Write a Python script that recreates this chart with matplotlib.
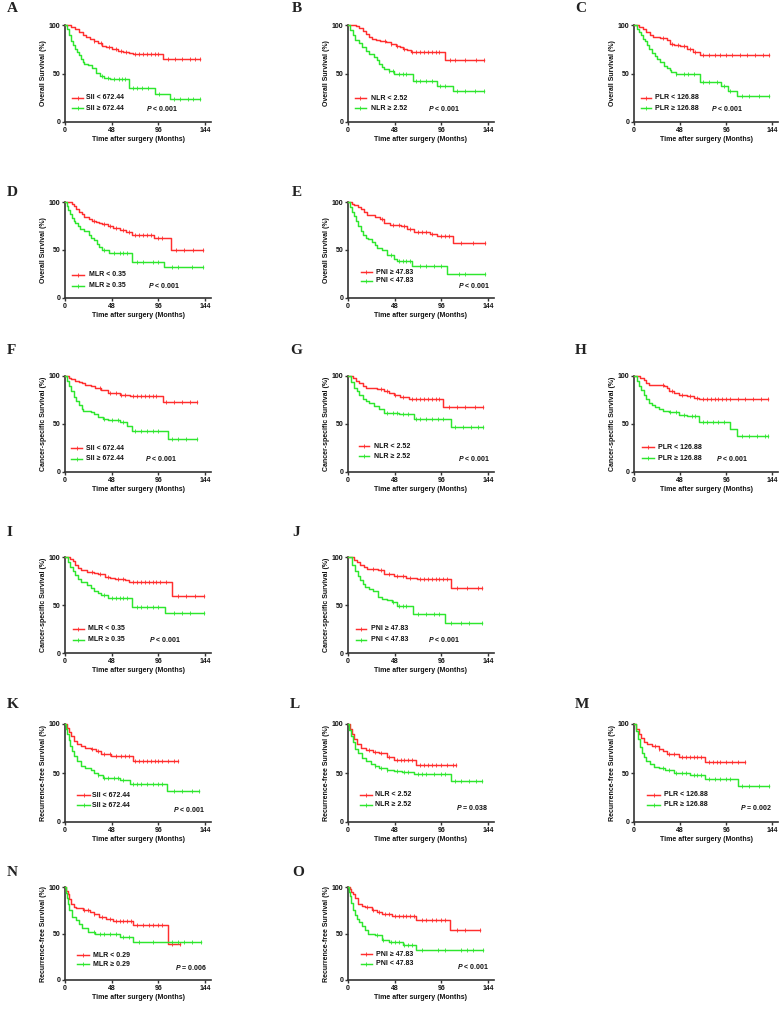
import numpy as np
import matplotlib
matplotlib.use('Agg')
import matplotlib.pyplot as plt

# ---------------- DATA ----------------
# Each curve: step times (months), survival (%) and censor times
A_hi_t = [0, 6, 10, 14, 18, 22, 26, 30, 34, 38, 42, 48, 54, 60, 66, 70, 101, 139]
A_hi_s = [100, 98, 96, 93, 90, 88, 86, 84, 81, 78, 77, 75, 73, 72, 71, 70, 64.5, 64.5]
A_hi_c = [30, 37, 45, 52, 58, 63, 72, 76, 80, 84, 88, 92, 96, 106, 113, 120, 128, 134, 139]
A_lo_t = [0, 2, 4, 6, 8, 10, 12, 14, 16, 18, 20, 24, 28, 32, 36, 40, 46, 66, 92, 108, 139]
A_lo_s = [100, 96, 90, 84, 79, 75, 72, 69, 65, 62, 60, 59, 56, 51, 47, 45, 44, 35, 29, 23.5, 23.5]
A_lo_c = [38, 44, 50, 55, 59, 62, 70, 74, 79, 85, 97, 112, 118, 126, 132, 139]

B_hi_t = [0, 8, 11, 15, 18, 21.5, 25, 28.5, 33, 39, 44, 49, 53, 57, 61, 65, 100, 140]
B_hi_s = [100, 99, 97, 94, 91, 88, 86, 85, 84, 82, 80, 78, 77, 75, 74, 72, 64, 64]
B_hi_c = [38, 44, 50, 58, 66, 70, 74, 78, 82, 86, 90, 94, 105, 110, 120, 132, 140]
B_lo_t = [0, 2.5, 5, 7.5, 11, 14.5, 18, 21.5, 26.5, 30, 32, 35, 37, 42, 47.5, 66.5, 91, 107.5, 140]
B_lo_s = [100, 95, 90, 85, 81, 77, 73, 70, 67, 64, 60, 57, 55, 53, 50, 42, 37, 32, 32]
B_lo_c = [42, 46, 52, 56, 60, 70, 74, 80, 86, 95, 100, 112, 120, 130, 140]

C_hi_t = [0, 5, 9, 13, 17, 20, 27, 34, 37, 42, 48, 55, 61.5, 68.5, 141]
C_hi_s = [100, 98, 96, 93, 90, 88, 87, 85, 80, 79, 78, 75, 72, 69.5, 69.5]
C_hi_c = [30, 40, 46, 52, 58, 64, 72, 78, 84, 90, 96, 102, 110, 118, 126, 134, 141]
C_lo_t = [0, 3, 5, 7.5, 9, 11, 13.5, 16, 19, 21.5, 24, 27, 31, 34, 37, 39, 44, 48, 68.5, 91, 98, 107, 141]
C_lo_s = [100, 96, 93, 90, 86, 83, 79, 75, 71, 68, 65, 62, 58, 56, 54, 52, 50, 49, 41, 37, 32, 27, 27]
C_lo_c = [44, 52, 56, 62, 72, 78, 86, 94, 100, 112, 120, 130, 141]

D_hi_t = [0, 7, 9, 11, 14, 17, 19.5, 24.5, 28, 31.5, 35, 38.5, 44, 49, 56, 63, 68.5, 91, 109, 142]
D_hi_s = [100, 98, 96, 93, 90, 87, 84, 82, 80, 79, 78, 77, 75, 73, 71, 69, 66, 62, 49.5, 49.5]
D_hi_c = [30, 40, 46, 52, 60, 66, 72, 76, 80, 84, 88, 96, 100, 114, 122, 132, 142]
D_lo_t = [0, 2, 3.5, 5, 7, 9, 10.5, 13, 15.5, 20, 24.5, 27, 30, 33, 35, 38.5, 45.5, 68.5, 102, 142]
D_lo_s = [100, 96, 92, 87, 83, 80, 78, 75, 72, 70, 66, 63, 60, 56, 53, 50, 47, 37, 32, 32]
D_lo_c = [40, 50, 56, 60, 64, 74, 80, 90, 96, 110, 116, 130, 142]

E_hi_t = [0, 4, 6, 10, 13, 16, 19.5, 28, 33, 37, 43.5, 54, 60.5, 67.5, 84, 91, 107.5, 140.5]
E_hi_s = [100, 98, 97, 95, 93, 90, 86, 84, 82, 78, 76, 75, 72, 69, 67, 65, 57, 57]
E_hi_c = [35, 46, 52, 58, 64, 72, 76, 80, 86, 96, 100, 104, 116, 128, 140.5]
E_lo_t = [0, 2, 4.5, 6, 8, 10, 13, 15.5, 18, 21, 25, 28, 30, 35, 40, 47, 50, 65.5, 101.5, 140.5]
E_lo_s = [100, 95, 90, 85, 80, 75, 70, 66, 63, 61, 58, 55, 52, 50, 45, 41, 39, 33, 24.5, 24.5]
E_lo_c = [44, 52, 56, 60, 64, 74, 80, 88, 96, 114, 120, 140.5]

F_hi_t = [0, 4, 6.5, 10, 14, 17, 21, 26.5, 31, 37, 44, 57, 67, 101, 136]
F_hi_s = [100, 98, 97, 95, 94, 93, 91, 90, 88, 85, 82, 80, 79, 73, 73]
F_hi_c = [36, 46, 52, 58, 62, 70, 74, 78, 82, 86, 90, 94, 104, 112, 120, 128, 136]
F_lo_t = [0, 2, 4, 6, 9, 11, 14, 17, 19, 26.5, 30, 34, 39, 44, 57, 64, 69, 106, 136]
F_lo_s = [100, 95, 90, 84, 78, 74, 70, 66, 64, 63, 60, 57, 55, 54, 52, 48, 43, 34.5, 34.5]
F_lo_c = [40, 48, 54, 60, 72, 78, 84, 90, 96, 110, 116, 124, 136]

G_hi_t = [0, 5, 8, 11.5, 15, 18, 22, 30, 37, 42, 47, 53, 62.5, 98, 139]
G_hi_s = [100, 98, 95, 93, 90, 88, 87, 86, 84, 82, 80, 78, 76, 68, 68]
G_hi_c = [34, 40, 48, 56, 66, 70, 74, 78, 82, 86, 90, 94, 104, 112, 120, 130, 139]
G_lo_t = [0, 3, 6.5, 9, 11.5, 15, 18, 22, 27, 32, 37, 52, 67.5, 106, 139]
G_lo_s = [100, 94, 88, 84, 80, 76, 74, 72, 69, 66, 61, 60, 55, 47, 47]
G_lo_c = [40, 46, 50, 56, 62, 70, 74, 80, 86, 92, 98, 110, 118, 126, 134, 139]

H_hi_t = [0, 6, 10.5, 13, 15.5, 31, 34, 36.5, 42, 47, 55, 63, 68, 140]
H_hi_s = [100, 98, 96, 93, 91, 90, 87, 84, 82, 80, 79, 77, 76, 76]
H_hi_c = [30, 40, 50, 58, 66, 72, 76, 80, 84, 88, 92, 96, 100, 108, 116, 124, 132, 140]
H_lo_t = [0, 3, 5, 7.5, 10.5, 13, 15.5, 19, 22, 26, 30, 36.5, 47, 55, 68, 99.5, 107, 140]
H_lo_s = [100, 95, 90, 85, 80, 76, 72, 70, 68, 66, 64, 62, 59, 58, 52, 45, 38, 38]
H_lo_c = [38, 44, 52, 60, 64, 72, 76, 82, 88, 94, 112, 120, 128, 136, 140]

I_hi_t = [0, 5, 8, 10.5, 13, 16, 23, 30, 34, 41, 46, 51.5, 62, 66, 110, 143]
I_hi_s = [100, 98, 96, 92, 89, 86, 84, 83, 82, 79, 78, 77, 76, 74, 59, 59]
I_hi_c = [28, 36, 44, 54, 60, 70, 74, 78, 82, 86, 90, 94, 98, 104, 116, 124, 134, 143]
I_lo_t = [0, 3, 5.5, 8, 10.5, 13, 16, 23, 27, 30, 34, 37, 44.5, 69, 103, 143]
I_lo_s = [100, 95, 90, 85, 81, 77, 74, 71, 68, 65, 62, 60, 57, 48, 42, 42]
I_lo_c = [40, 48, 52, 56, 60, 64, 74, 78, 84, 90, 96, 112, 120, 128, 143]

J_hi_t = [0, 5.8, 9, 12.6, 16, 19.5, 31, 36.5, 46.8, 60, 70.6, 105.8, 138]
J_hi_s = [100, 97, 95, 92, 90, 88, 86, 82, 80, 78, 77, 68, 68]
J_hi_c = [26, 34, 42, 50, 56, 64, 74, 78, 82, 86, 90, 94, 98, 102, 112, 122, 134, 138]
J_lo_t = [0, 4, 7.5, 10, 12.6, 15, 17.7, 22, 26, 31, 35, 40, 45, 50, 67, 99.6, 138]
J_lo_s = [100, 92, 85, 80, 76, 72, 69, 67, 65, 58, 56, 55, 53, 49, 41, 31, 31]
J_lo_c = [46, 52, 56, 60, 72, 80, 88, 94, 106, 116, 124, 138]

K_hi_t = [0, 2, 4, 6.5, 9, 12, 16.5, 21, 26.5, 32, 36.8, 46.8, 69.5, 116]
K_hi_s = [100, 96, 92, 88, 83, 80, 78, 76, 74, 72, 69, 67, 62, 62]
K_hi_c = [28, 34, 40, 46, 52, 58, 62, 66, 72, 76, 80, 84, 88, 92, 96, 100, 106, 112, 116]
K_lo_t = [0, 1.5, 2.5, 4, 5, 7, 9, 12, 16.5, 21, 26.7, 30, 34, 39, 57, 67, 105, 137.5]
K_lo_s = [100, 95, 90, 84, 78, 72, 67, 62, 57, 55, 53, 50, 48, 45, 43, 39, 32, 32]
K_lo_c = [34, 40, 44, 50, 54, 60, 70, 74, 78, 84, 90, 96, 100, 112, 120, 130, 137.5]

L_hi_t = [0, 2, 4, 6.5, 9, 13, 19, 26, 32, 40, 47, 70, 111]
L_hi_s = [100, 95, 90, 85, 80, 76, 73, 71, 70, 66, 63, 58, 58]
L_hi_c = [22, 28, 34, 42, 50, 54, 58, 62, 66, 74, 78, 82, 86, 90, 96, 102, 108, 111]
L_lo_t = [0, 1.5, 3, 5, 7.6, 10, 14, 19, 24, 28, 32, 40, 47, 55, 67.7, 106, 138]
L_lo_s = [100, 94, 88, 82, 75, 70, 65, 62, 59, 57, 55, 53, 52, 51, 49, 42, 42]
L_lo_c = [28, 34, 40, 50, 58, 62, 72, 76, 80, 88, 96, 100, 110, 116, 124, 132, 138]

M_hi_t = [0, 2.5, 5, 7.5, 10.5, 14, 18.5, 26, 30, 34, 47, 74, 116]
M_hi_s = [100, 95, 90, 86, 82, 80, 78, 74, 72, 69, 66, 61, 61]
M_hi_c = [22, 26, 36, 42, 50, 54, 58, 62, 66, 70, 78, 82, 86, 90, 96, 102, 108, 116]
M_lo_t = [0, 2, 4, 6, 8, 10.5, 13, 17, 21, 26, 32, 42, 58, 74, 108, 141]
M_lo_s = [100, 93, 85, 77, 70, 66, 62, 59, 56, 55, 53, 50, 48, 44, 37, 37]
M_lo_c = [30, 36, 44, 50, 54, 62, 66, 70, 78, 84, 90, 96, 100, 112, 120, 130, 141]

N_hi_t = [0, 1.5, 2.8, 4.5, 6.4, 9, 11.7, 19, 26, 30, 35, 42, 49, 70, 106, 118.5]
N_hi_s = [100, 96, 92, 87, 82, 79, 77, 75, 73, 71, 68, 66, 63, 59, 39, 39]
N_hi_c = [20, 24, 30, 38, 46, 52, 56, 60, 64, 68, 74, 80, 86, 90, 96, 100, 110, 118.5]
N_lo_t = [0, 1, 2, 3, 4.6, 7, 11.7, 14, 17, 24, 31, 42, 56, 70, 140]
N_lo_s = [100, 94, 88, 82, 75, 68, 64, 60, 56, 52, 50, 49, 46, 41, 41]
N_lo_c = [30, 36, 40, 46, 52, 60, 66, 76, 90, 110, 116, 122, 130, 140]

O_hi_t = [0, 2, 3.5, 5, 7, 10.5, 14, 17.6, 24.6, 30, 35, 45.7, 70, 105, 136]
O_hi_s = [100, 98, 95, 92, 88, 82, 80, 78, 75, 73, 71, 69, 65, 54, 54]
O_hi_c = [20, 26, 32, 38, 42, 48, 52, 56, 60, 64, 68, 76, 80, 86, 90, 96, 100, 112, 120, 136]
O_lo_t = [0, 1, 1.8, 3, 5.3, 7, 8.8, 11, 14, 17, 21, 28, 35, 42, 56, 70, 139]
O_lo_s = [100, 95, 90, 83, 75, 70, 66, 62, 58, 54, 50, 48, 43, 41, 38, 32, 32]
O_lo_c = [30, 36, 44, 48, 52, 58, 62, 66, 76, 92, 100, 116, 122, 128, 139]

letters = ['A', 'B', 'C', 'D', 'E', 'F', 'G', 'H', 'I', 'J', 'K', 'L', 'M', 'N', 'O']
ylabels = ['Overall Survival (%)'] * 5 + ['Cancer-specific Survival (%)'] * 5 + ['Recurrence-free Survival (%)'] * 5
group_labels = [
    ('SII < 672.44', 'SII ≥ 672.44'), ('NLR < 2.52', 'NLR ≥ 2.52'), ('PLR < 126.88', 'PLR ≥ 126.88'),
    ('MLR < 0.35', 'MLR ≥ 0.35'), ('PNI ≥ 47.83', 'PNI < 47.83'),
    ('SII < 672.44', 'SII ≥ 672.44'), ('NLR < 2.52', 'NLR ≥ 2.52'), ('PLR < 126.88', 'PLR ≥ 126.88'),
    ('MLR < 0.35', 'MLR ≥ 0.35'), ('PNI ≥ 47.83', 'PNI < 47.83'),
    ('SII < 672.44', 'SII ≥ 672.44'), ('NLR < 2.52', 'NLR ≥ 2.52'), ('PLR < 126.88', 'PLR ≥ 126.88'),
    ('MLR < 0.29', 'MLR ≥ 0.29'), ('PNI ≥ 47.83', 'PNI < 47.83'),
]
p_values = ['< 0.001'] * 11 + ['= 0.038', '= 0.002', '= 0.006', '< 0.001']
x_ticks = [0, 48, 96, 144]
y_ticks = [0, 50, 100]

curves = {
    'A': ((A_hi_t, A_hi_s, A_hi_c), (A_lo_t, A_lo_s, A_lo_c)),
    'B': ((B_hi_t, B_hi_s, B_hi_c), (B_lo_t, B_lo_s, B_lo_c)),
    'C': ((C_hi_t, C_hi_s, C_hi_c), (C_lo_t, C_lo_s, C_lo_c)),
    'D': ((D_hi_t, D_hi_s, D_hi_c), (D_lo_t, D_lo_s, D_lo_c)),
    'E': ((E_hi_t, E_hi_s, E_hi_c), (E_lo_t, E_lo_s, E_lo_c)),
    'F': ((F_hi_t, F_hi_s, F_hi_c), (F_lo_t, F_lo_s, F_lo_c)),
    'G': ((G_hi_t, G_hi_s, G_hi_c), (G_lo_t, G_lo_s, G_lo_c)),
    'H': ((H_hi_t, H_hi_s, H_hi_c), (H_lo_t, H_lo_s, H_lo_c)),
    'I': ((I_hi_t, I_hi_s, I_hi_c), (I_lo_t, I_lo_s, I_lo_c)),
    'J': ((J_hi_t, J_hi_s, J_hi_c), (J_lo_t, J_lo_s, J_lo_c)),
    'K': ((K_hi_t, K_hi_s, K_hi_c), (K_lo_t, K_lo_s, K_lo_c)),
    'L': ((L_hi_t, L_hi_s, L_hi_c), (L_lo_t, L_lo_s, L_lo_c)),
    'M': ((M_hi_t, M_hi_s, M_hi_c), (M_lo_t, M_lo_s, M_lo_c)),
    'N': ((N_hi_t, N_hi_s, N_hi_c), (N_lo_t, N_lo_s, N_lo_c)),
    'O': ((O_hi_t, O_hi_s, O_hi_c), (O_lo_t, O_lo_s, O_lo_c)),
}

# ---------------- LAYOUT ----------------
W, H = 783, 1010
col_x = [(65, 211), (348, 494), (634, 778)]            # px of x=0 and x=150
row_y = [(25, 122), (202, 298), (376, 472), (557, 653), (724, 822), (887, 980)]  # px of y=100, y=0
grid = {'A': (0, 0), 'B': (0, 1), 'C': (0, 2), 'D': (1, 0), 'E': (1, 1),
        'F': (2, 0), 'G': (2, 1), 'H': (2, 2), 'I': (3, 0), 'J': (3, 1),
        'K': (4, 0), 'L': (4, 1), 'M': (4, 2), 'N': (5, 0), 'O': (5, 1)}
letter_pos = {'A': (7, 9), 'B': (292, 8), 'C': (575, 8), 'D': (7, 192), 'E': (292, 192),
              'F': (7, 350), 'G': (290, 350), 'H': (575, 350), 'I': (7, 532), 'J': (292, 532),
              'K': (7, 705), 'L': (290, 705), 'M': (575, 705), 'N': (7, 873), 'O': (292, 873)}
# red_y, green_y, line_x0, line_x1, text_x, p_x, p_y, p_ha  (data coords)
legend_pos = {
    'A': (25, 14, 7, 19, 22, 83, 14, 'left'),
    'B': (24.6, 14.4, 7.6, 18, 24, 82, 14.4, 'left'),
    'C': (25, 14, 7, 18, 21.6, 80, 14, 'left'),
    'D': (24, 13, 7.7, 20, 25, 85, 13, 'left'),
    'E': (27, 18, 13, 25, 29, 146, 13.5, 'right'),
    'F': (25, 14, 6.5, 17.6, 21.6, 82, 14, 'left'),
    'G': (27, 16.6, 11.7, 22, 27, 146, 14, 'right'),
    'H': (25.6, 14.5, 7.9, 21, 25, 85, 14.5, 'left'),
    'I': (25, 14, 8, 19.6, 24, 86, 14, 'left'),
    'J': (25.5, 14, 8, 19, 24, 82, 14, 'left'),
    'K': (27.4, 17, 12.6, 25.7, 28, 143.5, 12.7, 'right'),
    'L': (27.7, 17.8, 12.7, 24.4, 28, 144, 14.4, 'right'),
    'M': (28, 17.8, 14, 27.4, 31.6, 144, 14.4, 'right'),
    'N': (26.5, 17, 12.8, 25, 28.5, 146, 13, 'right'),
    'O': (27.7, 17.7, 13, 24.6, 28.8, 145, 15, 'right'),
}

plt.rcParams['font.family'] = ['Liberation Sans', 'DejaVu Sans']
plt.rcParams['mathtext.fontset'] = 'custom'
plt.rcParams['mathtext.it'] = 'Liberation Sans:italic:bold'
plt.rcParams['mathtext.rm'] = 'Liberation Sans:bold'

RED = '#FF2E2E'
GREEN = '#2EE62E'
AXC = '#333333'
FS = 5.0

fig = plt.figure(figsize=(W / 100, H / 100), dpi=100)


def step_value(t, s, c):
    idx = np.searchsorted(np.asarray(t), c, side='right') - 1
    return np.asarray(s)[idx]


for i, L in enumerate(letters):
    r, c = grid[L]
    x0, x1 = col_x[c]
    yt, yb = row_y[r]
    ax = fig.add_axes([x0 / W, 1 - yb / H, (x1 - x0) / W, (yb - yt) / H])
    ax.set_xlim(0, 150)
    ax.set_ylim(0, 100)
    for sp in ['top', 'right']:
        ax.spines[sp].set_visible(False)
    for sp in ['left', 'bottom']:
        ax.spines[sp].set_color(AXC)
        ax.spines[sp].set_linewidth(1.2)
    ax.set_xticks(x_ticks)
    ax.set_yticks(y_ticks)
    ax.tick_params(direction='out', length=2.2, width=1.0, color=AXC, pad=1.2,
                   labelsize=FS, labelcolor='#111111')
    for lab in ax.get_xticklabels() + ax.get_yticklabels():
        lab.set_fontweight('bold')
    ax.set_xlabel('Time after surgery (Months)', fontsize=FS, fontweight='bold', labelpad=1.5, color='#111111')
    ax.set_ylabel(ylabels[i], fontsize=FS, fontweight='bold', labelpad=1.5, color='#111111')

    for (t, s, cens), col in zip(curves[L], [RED, GREEN]):
        ax.plot(t, s, drawstyle='steps-post', color=col, lw=1.05, clip_on=False, zorder=3)
        ax.plot(cens, step_value(t, s, cens), linestyle='none', marker='|', ms=2.6, mew=0.6,
                color=col, clip_on=False, zorder=3)

    ry, gy, lx0, lx1, tx, px, py, pha = legend_pos[L]
    for yy, col, lab in zip([ry, gy], [RED, GREEN], group_labels[i]):
        ax.plot([lx0, lx1], [yy, yy], color=col, lw=1.05)
        ax.plot([(lx0 + lx1) / 2], [yy], marker='|', ms=2.6, mew=0.6, color=col)
        ax.text(tx, yy, lab, fontsize=FS, fontweight='bold', va='center', ha='left', color='#111111')
    ax.text(px, py, r'$\mathit{P}$ ' + p_values[i], fontsize=FS, fontweight='bold',
            va='center', ha=pha, color='#111111')

    lx, ly = letter_pos[L]
    fig.text(lx / W, 1 - ly / H, L, fontsize=11, fontweight='bold', family='Liberation Serif',
             va='center', ha='left', color='#222222')

fig.savefig('out.png', dpi=100)
